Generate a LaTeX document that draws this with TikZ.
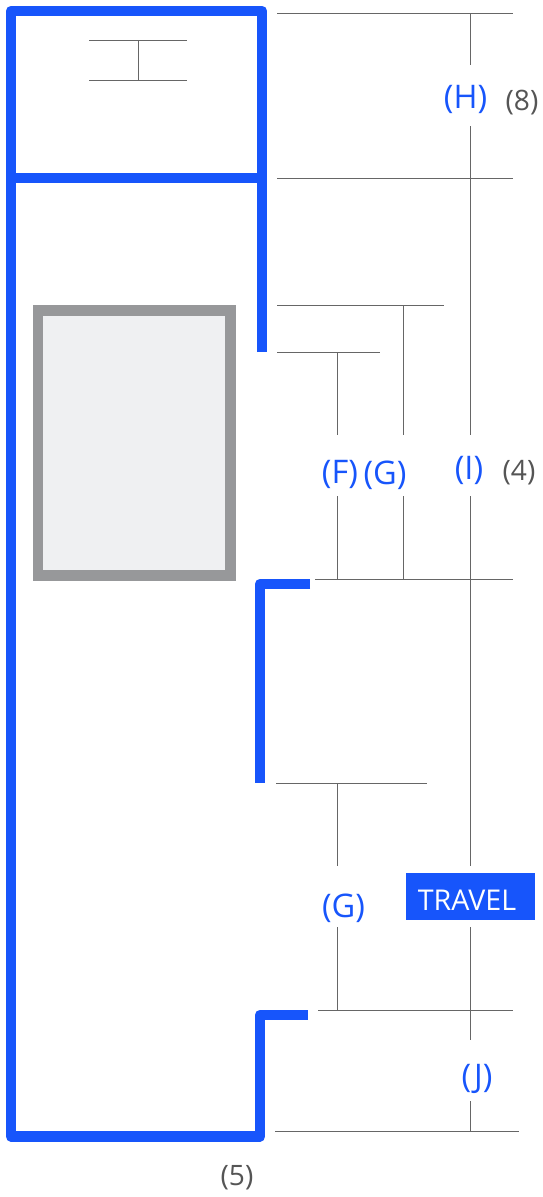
\documentclass[tikz,border=0pt]{standalone}
\usepackage{fontspec}
\usepackage{xcolor}
\setmainfont{Open Sans}
\usetikzlibrary{positioning, calc}
\definecolor{wallblue}{HTML}{1755FB}
\definecolor{cargray}{HTML}{97989A}
\definecolor{carfill}{HTML}{EFF0F2}
\definecolor{rulegray}{HTML}{666666}
\definecolor{notegray}{HTML}{555555}
\tikzstyle{wall} = [draw=wallblue, line width=0.21cm, line join=round]
\tikzstyle{rule} = [draw=rulegray, line width=0.02cm]
\tikzstyle{dimlabel} = [text=wallblue, inner sep=0pt, font=\fontsize{18.5}{18.5}\selectfont]
\tikzstyle{note} = [text=notegray, inner sep=0pt, font=\fontsize{16}{16}\selectfont]
\tikzstyle{tag} = [fill=wallblue, text=white, minimum width=2.58cm, minimum height=0.94cm, inner sep=0pt, font=\fontsize{16.3}{16.3}\selectfont]

\begin{document}
\begin{tikzpicture}[x=0.02cm, y=-0.02cm]
    \useasboundingbox (0,0) rectangle (542,1197);

    % Shaft walls
    \draw [wall] (262,352) -- (262,11) -- (11,11) -- (11,1136.5) -- (260,1136.5) -- (260,1015) -- (308,1015);
    \draw [wall] (11,178) -- (262,178);
    \draw [wall] (310,584) -- (260,584) -- (260,783);
    \node (car) [draw=cargray, fill=carfill, line width=0.21cm, minimum width=3.85cm, minimum height=5.31cm, anchor=north west] at (33,305) {};

    % Labels
    \node (labelH) [dimlabel] at (465.5,99) {(H)};
    \node (labelF) [dimlabel] at (340,474) {(F)};
    \node (labelG) [dimlabel] at (385,475) {(G)};
    \node (labelI) [dimlabel] at (469,470) {(I)};
    \node (labelGlow) [dimlabel] at (343.5,908) {(G)};
    \node (labelJ) [dimlabel] at (477,1079) {(J)};
    \node (note8) [note] at (522,103) {(8)};
    \node (note4) [note] at (519,473) {(4)};
    \node (note5) [note] at (237,1178) {(5)};
    \node (travel) [tag] at (470.5,896.5) {\smash{\raisebox{-0.27cm}{\hspace*{-0.14cm}TRAVEL}}};

    % Small beam
    \coordinate (beamTL) at (89,40);
    \coordinate (beamTR) at (187,40);
    \coordinate (beamBL) at (89,80);
    \coordinate (beamBR) at (187,80);
    \draw [rule] (beamTL) -- (beamTR);
    \draw [rule] (beamBL) -- (beamBR);
    \draw [rule] ($(beamTL)!0.5!(beamTR)$) -- ($(beamBL)!0.5!(beamBR)$);

    % Level lines
    \foreach \name/\xa/\xb/\y in {top/277/513/13, roof/277/513/178, head/277/444/305, door/277/380/352, sill/315/513/579, low/276/427/783, base/318/513/1010, pit/275/519/1131} {
        \coordinate (\name L) at (\xa,\y);
        \coordinate (\name R) at (\xb,\y);
        \draw [rule] (\name L) -- (\name R);
    }

    % Travel line
    \coordinate (gapHa) at (470.6,65);
    \coordinate (gapHb) at (470.6,126);
    \coordinate (gapIa) at (470.6,435);
    \coordinate (gapIb) at (470.6,496);
    \coordinate (gapTa) at (470.6,866);
    \coordinate (gapTb) at (470.6,927);
    \coordinate (gapJa) at (470.6,1040);
    \coordinate (gapJb) at (470.6,1101);
    \draw [rule] (gapHa |- topL) -- (gapHa);
    \draw [rule] (gapHb) -- (gapIa);
    \draw [rule] (gapIb) -- (gapTa);
    \draw [rule] (gapTb) -- (gapJa);
    \draw [rule] (gapJb) -- (gapJb |- pitL);

    % Short drops
    \coordinate (gapFa) at (337.6,435);
    \coordinate (gapFb) at (337.6,496);
    \coordinate (gapGa) at (403,435);
    \coordinate (gapGb) at (403,496);
    \coordinate (gapLa) at (337.6,866);
    \coordinate (gapLb) at (337.6,927);
    \draw [rule] (gapFa |- doorL) -- (gapFa);
    \draw [rule] (gapFb) -- (gapFb |- sillL);
    \draw [rule] (gapGa |- headL) -- (gapGa);
    \draw [rule] (gapGb) -- (gapGb |- sillL);
    \draw [rule] (gapLa |- lowL) -- (gapLa);
    \draw [rule] (gapLb) -- (gapLb |- baseL);
\end{tikzpicture}
\end{document}
